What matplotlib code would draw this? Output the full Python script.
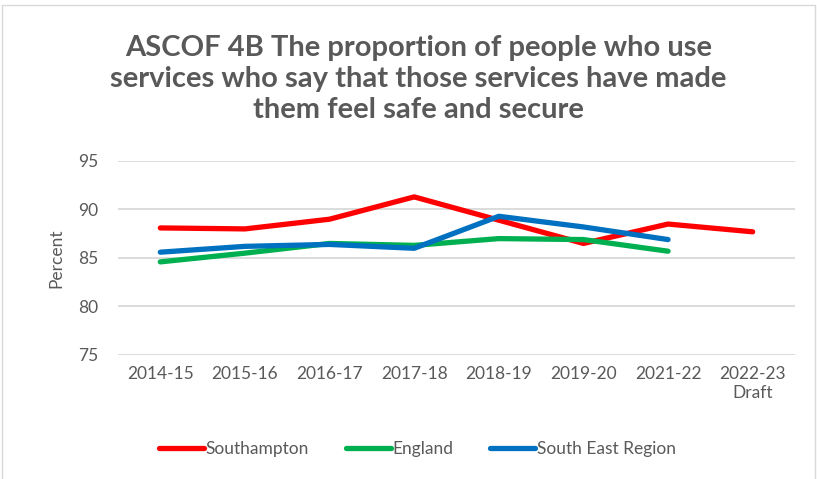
import matplotlib
matplotlib.use("Agg")
import matplotlib.pyplot as plt
from matplotlib.patches import Rectangle

categories = ["2014-15", "2015-16", "2016-17", "2017-18", "2018-19", "2019-20", "2021-22", "2022-23\nDraft"]
southampton = [88.1, 88.0, 89.0, 91.3, 88.9, 86.5, 88.5, 87.7]
england = [84.6, 85.5, 86.5, 86.3, 87.0, 86.9, 85.7]
south_east = [85.6, 86.2, 86.4, 86.0, 89.3, 88.2, 86.9]
y_ticks = [75, 80, 85, 90, 95]

plt.rcParams['font.family'] = ['Lato', 'DejaVu Sans']
text_col = '#595959'

fig = plt.figure(figsize=(8.17, 4.79), dpi=100)
ax = fig.add_axes([118/817, 1-355/479, (795-118)/817, (355-161)/479])

x = list(range(len(categories)))
ax.plot(x, southampton, color='#FF0000', lw=3.8, solid_capstyle='round', label='Southampton')
ax.plot(x[:len(england)], england, color='#00B050', lw=3.8, solid_capstyle='round', label='England')
ax.plot(x[:len(south_east)], south_east, color='#0070C0', lw=3.8, solid_capstyle='round', label='South East Region')

ax.set_xlim(-0.5, len(categories)-0.5)
ax.set_ylim(75, 95)
ax.set_yticks(y_ticks)
ax.set_xticks(x)
ax.set_xticklabels(categories)
ax.yaxis.grid(True, color='#D9D9D9', lw=1.3)
ax.set_axisbelow(True)
for s in ax.spines.values():
    s.set_visible(False)
ax.tick_params(length=0, labelsize=12.5, colors=text_col, pad=8)
ax.tick_params(axis='y', pad=14)
ax.set_ylabel('Percent', fontsize=12.5, color=text_col, labelpad=10)

fig.text(0.512, 1-79/479, "ASCOF 4B The proportion of people who use\nservices who say that those services have made\nthem feel safe and secure",
         ha='center', va='center', fontsize=21, fontweight='bold', color=text_col, linespacing=1.22)

leg = fig.legend(loc='center', bbox_to_anchor=(0.511, 1-449/479), ncol=3, frameon=False,
                 fontsize=12.5, handlelength=2.6, handletextpad=0.1, columnspacing=2.1)
for t in leg.get_texts():
    t.set_color(text_col)

fig.patches.append(Rectangle((0.003, -0.01), 0.994, 1.0, transform=fig.transFigure,
                             fill=False, edgecolor='#D9D9D9', lw=1))

fig.savefig('out.png', dpi=100)
